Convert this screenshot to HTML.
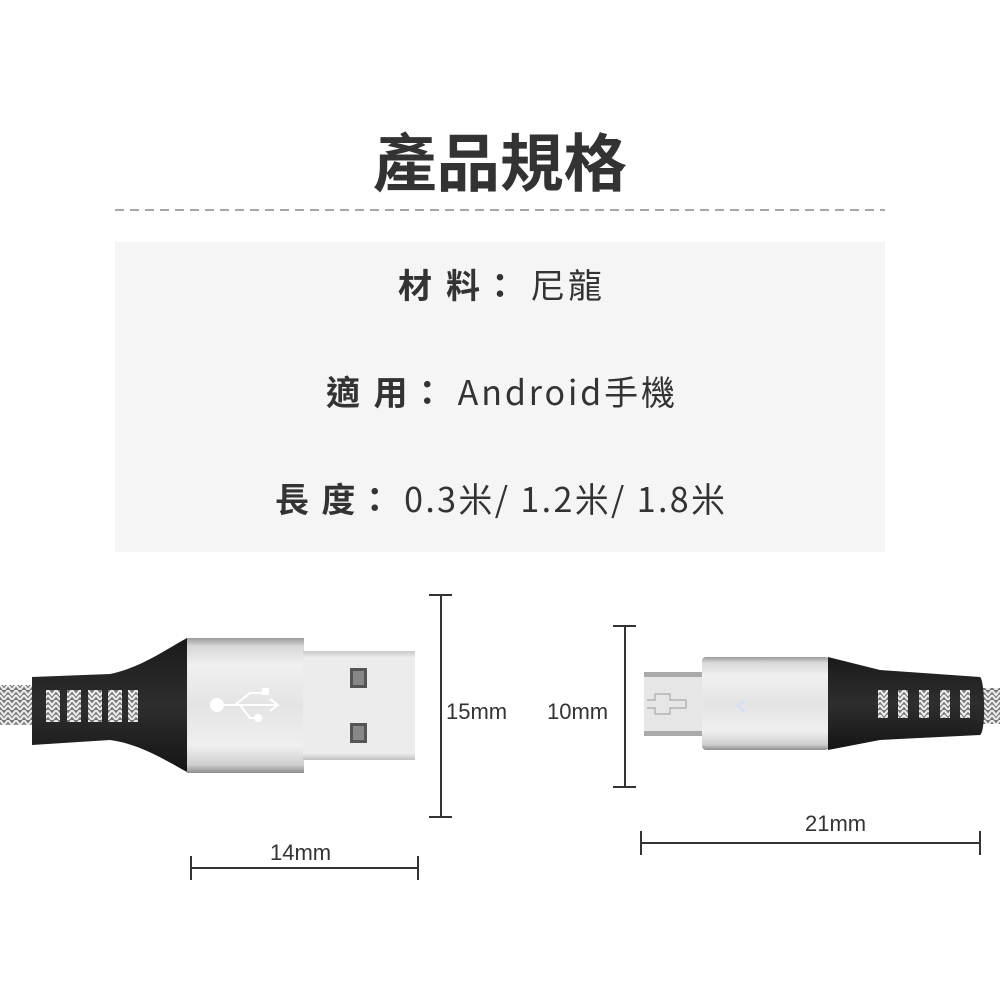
<!DOCTYPE html>
<html><head><meta charset="utf-8"><style>
html,body{margin:0;padding:0;background:#fff}
svg{display:block}
.t{font-family:"Liberation Sans","Noto Sans CJK TC",sans-serif;fill:#333}
.c{font-family:"Noto Sans CJK TC","Liberation Sans",sans-serif;fill:#333}
</style></head><body>
<svg width="1000" height="1000" viewBox="0 0 1000 1000" xmlns="http://www.w3.org/2000/svg">
<defs>
<linearGradient id="sil" x1="0" y1="0" x2="0" y2="1">
<stop offset="0" stop-color="#9a9a9a"/><stop offset="0.06" stop-color="#d8d8d8"/><stop offset="0.2" stop-color="#f0f0f0"/><stop offset="0.5" stop-color="#e4e4e4"/><stop offset="0.8" stop-color="#efefef"/><stop offset="0.94" stop-color="#cfcfcf"/><stop offset="1" stop-color="#8e8e8e"/>
</linearGradient>
<linearGradient id="plug" x1="0" y1="0" x2="0" y2="1">
<stop offset="0" stop-color="#c8c8c8"/><stop offset="0.06" stop-color="#ececec"/><stop offset="0.94" stop-color="#ececec"/><stop offset="1" stop-color="#c0c0c0"/>
</linearGradient>
<linearGradient id="blk" x1="0" y1="0" x2="0" y2="1">
<stop offset="0" stop-color="#1a1a1a"/><stop offset="0.5" stop-color="#2e2e2e"/><stop offset="1" stop-color="#151515"/>
</linearGradient>
<pattern id="braid" width="8" height="10" patternUnits="userSpaceOnUse">
<rect width="8" height="10" fill="#777"/><path d="M0 0 L4 5 L8 0 M0 5 L4 10 L8 5" stroke="#eee" stroke-width="2" fill="none"/>
</pattern>
</defs>
<text x="373" y="186" textLength="254" lengthAdjust="spacingAndGlyphs" class="c" font-size="63" font-weight="bold" fill="#2a2a2a">產品規格</text>
<line x1="115" y1="210" x2="885" y2="210" stroke="#888" stroke-width="1.5" stroke-dasharray="9,6"/>
<rect x="115" y="242" width="770" height="310" fill="#f5f5f5"/>
<text x="398" y="298" textLength="204" lengthAdjust="spacing" class="c" font-size="34"><tspan font-weight="bold">材 料：</tspan> 尼龍</text>
<text x="326" y="405" textLength="349" lengthAdjust="spacing" class="c" font-size="34"><tspan font-weight="bold">適 用：</tspan> Android手機</text>
<text x="275" y="512" textLength="450" lengthAdjust="spacing" class="c" font-size="34"><tspan font-weight="bold">長 度：</tspan> 0.3米/ 1.2米/ 1.8米</text>

<!-- USB left -->
<rect x="0" y="685" width="36" height="40" fill="url(#braid)"/>
<path d="M32 677 L110 674 C140 668 165 650 187 638 L187 772 C165 760 140 744 110 740 L32 745 Z" fill="url(#blk)"/>
<g fill="url(#braid)">
<rect x="46" y="690" width="14" height="32"/><rect x="67" y="690" width="14" height="32"/><rect x="88" y="690" width="14" height="32"/><rect x="108" y="690" width="14" height="32"/><rect x="128" y="690" width="10" height="32"/>
</g>
<rect x="187" y="638" width="117" height="135" fill="url(#sil)"/>
<rect x="303" y="651" width="112" height="109" fill="url(#plug)"/>
<rect x="350" y="668" width="17" height="20" fill="#555"/><rect x="353" y="671" width="11" height="14" fill="#888"/>
<rect x="350" y="723" width="17" height="20" fill="#555"/><rect x="353" y="726" width="11" height="14" fill="#888"/>
<g stroke="#fff" stroke-width="2" fill="none">
<circle cx="217" cy="705" r="6" fill="#fff"/>
<path d="M222 705 H278 M270 699 L278 705 L270 711"/>
<path d="M235 705 L250 693 H263"/><path d="M240 705 L250 718 H255"/>
</g>
<rect x="262" y="688" width="7" height="7" fill="#fff"/><circle cx="258" cy="718" r="4" fill="#fff"/>
<line x1="441" y1="595" x2="441" y2="817" stroke="#333" stroke-width="2"/>
<line x1="429" y1="595" x2="452" y2="595" stroke="#333" stroke-width="2"/>
<line x1="429" y1="817" x2="452" y2="817" stroke="#333" stroke-width="2"/>
<text x="446" y="719" class="t" font-size="22">15mm</text>
<line x1="191" y1="868" x2="418" y2="868" stroke="#333" stroke-width="2"/>
<line x1="191" y1="856" x2="191" y2="880" stroke="#333" stroke-width="2"/>
<line x1="418" y1="856" x2="418" y2="880" stroke="#333" stroke-width="2"/>
<text x="270" y="860" class="t" font-size="22">14mm</text>

<!-- micro right -->
<rect x="976" y="688" width="24" height="36" fill="url(#braid)"/>
<rect x="644" y="672" width="60" height="64" fill="#e6e6e6"/>
<rect x="644" y="672" width="60" height="5" fill="#aaa"/><rect x="644" y="731" width="60" height="5" fill="#aaa"/>
<path d="M647 700 H655 V694 H670 V700 H686 V708 H670 V714 H655 V708 H647" stroke="#aaa" fill="none" stroke-width="1.2"/>
<rect x="702" y="657" width="127" height="93" rx="4" fill="url(#sil)"/>
<path d="M745 700 L738 706 L745 712" stroke="#cfe0ff" stroke-width="2" fill="none"/>
<path d="M828 657 L880 670 L980 677 C985 680 986 732 980 735 L880 740 L828 750 Z" fill="url(#blk)"/>
<g fill="url(#braid)">
<rect x="878" y="690" width="10" height="28"/><rect x="898" y="690" width="10" height="28"/><rect x="919" y="690" width="10" height="28"/><rect x="940" y="690" width="10" height="28"/><rect x="960" y="690" width="10" height="28"/>
</g>
<line x1="625" y1="626" x2="625" y2="787" stroke="#333" stroke-width="2"/>
<line x1="613" y1="626" x2="636" y2="626" stroke="#333" stroke-width="2"/>
<line x1="613" y1="787" x2="636" y2="787" stroke="#333" stroke-width="2"/>
<text x="547" y="719" class="t" font-size="22">10mm</text>
<line x1="641" y1="843" x2="980" y2="843" stroke="#333" stroke-width="2"/>
<line x1="641" y1="831" x2="641" y2="855" stroke="#333" stroke-width="2"/>
<line x1="980" y1="831" x2="980" y2="855" stroke="#333" stroke-width="2"/>
<text x="805" y="831" class="t" font-size="22">21mm</text>
</svg>
</body></html>
